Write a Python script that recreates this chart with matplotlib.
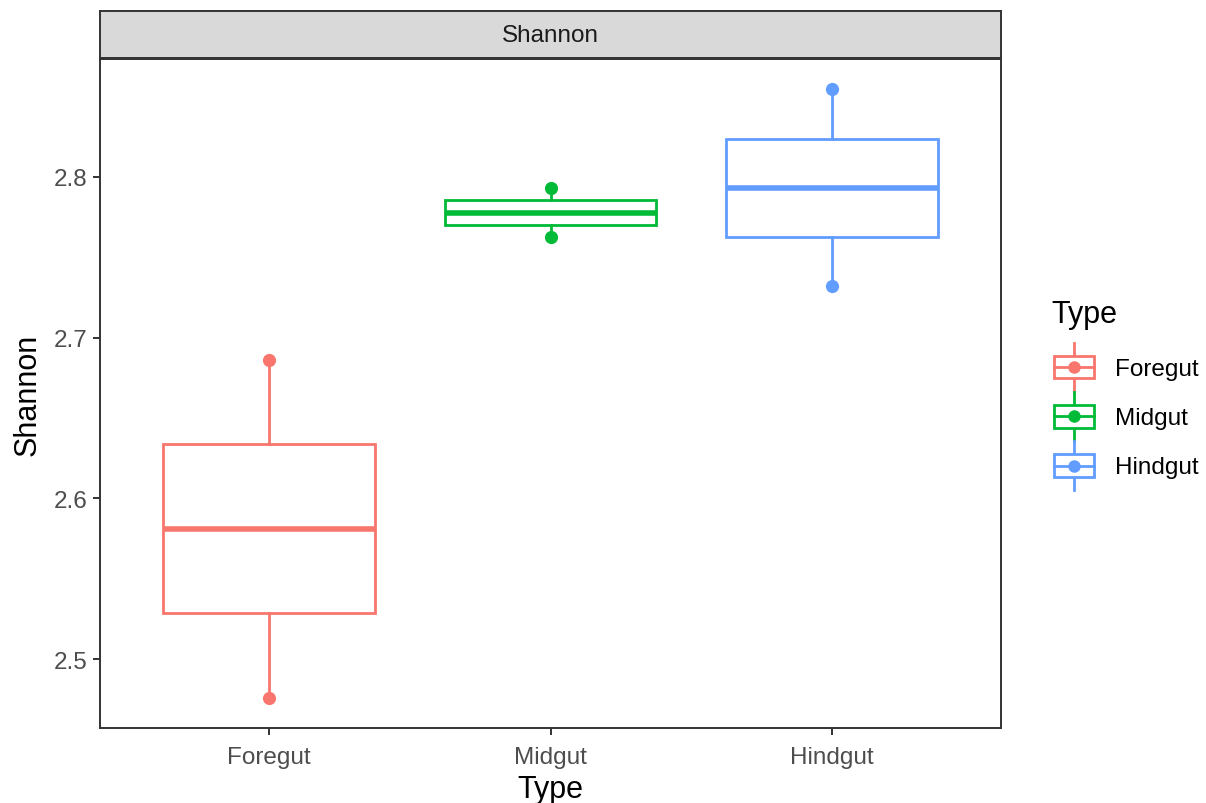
import matplotlib
matplotlib.use("Agg")
import matplotlib.pyplot as plt
import numpy as np
from matplotlib.legend_handler import HandlerBase
from matplotlib.patches import Rectangle, Patch
from matplotlib.lines import Line2D

plt.rcParams['font.family'] = ['Liberation Sans', 'DejaVu Sans']

categories = ["Foregut", "Midgut", "Hindgut"]
foregut = [2.476, 2.581, 2.686]
midgut = [2.7623, 2.7777, 2.7932]
hindgut = [2.732, 2.7932, 2.8544]
values = [foregut, midgut, hindgut]
colors = ["#F8766D", "#00BA38", "#619CFF"]
yticks = [2.5, 2.6, 2.7, 2.8]
facet_label = "Shannon"

W, H = 1206, 804
fig = plt.figure(figsize=(W / 100, H / 100), dpi=100)

def fx(px):
    return px / W

def fy(py):
    return 1 - py / H

ax = fig.add_axes([fx(100), fy(729), fx(1001) - fx(100), fy(60) - fy(729)])
strip = fig.add_axes([fx(100), fy(59), fx(1001) - fx(100), fy(12) - fy(59)])

positions = np.arange(1, len(categories) + 1)
box_lw = 2.0
for i, (vals, c) in enumerate(zip(values, colors)):
    ax.scatter([positions[i]] * len(vals), vals, s=90, color=c, zorder=1, linewidths=0)
    ax.boxplot([vals], positions=[positions[i]], widths=0.75, whis=(0, 100),
               showcaps=False, showfliers=False, patch_artist=True,
               boxprops=dict(facecolor='white', edgecolor=c, linewidth=box_lw),
               whiskerprops=dict(color=c, linewidth=box_lw),
               medianprops=dict(color=c, linewidth=box_lw * 2, solid_capstyle='butt'),
               zorder=2)

ax.set_xlim(0.4, len(categories) + 0.6)
allv = np.concatenate(values)
rng = allv.max() - allv.min()
ax.set_ylim(allv.min() - 0.05 * rng, allv.max() + 0.05 * rng)
ax.set_xticks(positions)
ax.set_xticklabels(categories)
ax.set_yticks(yticks)
ax.set_yticklabels([f"{t:.1f}" for t in yticks])
ax.tick_params(axis='both', labelsize=17.5, labelcolor='#4D4D4D', color='#333333',
               length=5, width=1.4, pad=4)
ax.tick_params(axis='x', pad=8)
for s in ax.spines.values():
    s.set_color('#333333')
    s.set_linewidth(1.4)
ax.set_xlabel("Type", fontsize=22, color='black', labelpad=4)
ax.set_ylabel("Shannon", fontsize=22, color='black', labelpad=8)

strip.set_facecolor('#D9D9D9')
strip.set_xticks([])
strip.set_yticks([])
for s in strip.spines.values():
    s.set_color('#333333')
    s.set_linewidth(1.4)
strip.text(0.5, 0.5, facet_label, ha='center', va='center', fontsize=17.5,
           color='#1A1A1A', transform=strip.transAxes)


class BoxHandler(HandlerBase):
    def create_artists(self, legend, orig_handle, xdescent, ydescent, width,
                       height, fontsize, trans):
        c = orig_handle.get_edgecolor()
        x0, y0 = -xdescent, -ydescent
        cx, cy = x0 + width / 2, y0 + height / 2
        bw, bh = width * 0.95, height * 0.46
        arts = [
            Line2D([cx, cx], [cy + bh / 2, y0 + height], color=c, lw=box_lw, transform=trans),
            Line2D([cx, cx], [y0, cy - bh / 2], color=c, lw=box_lw, transform=trans),
            Rectangle((cx - bw / 2, cy - bh / 2), bw, bh, fc='white', ec=c, lw=box_lw,
                      transform=trans),
            Line2D([cx - bw / 2, cx + bw / 2], [cy, cy], color=c, lw=box_lw, transform=trans),
            Line2D([cx], [cy], marker='o', ms=9, color=c, mew=0, transform=trans),
        ]
        return arts


handles = [Patch(facecolor='white', edgecolor=c) for c in colors]
leg = fig.legend(handles, categories, handler_map={Patch: BoxHandler()},
                 loc='upper left', bbox_to_anchor=(fx(1053), fy(344)),
                 frameon=False, fontsize=17.5,
                 handlelength=1.75, handleheight=2.7, labelspacing=0.02,
                 handletextpad=0.82, borderaxespad=0, borderpad=0)
fig.text(fx(1051), fy(315), "Type", ha='left', va='center', fontsize=22, color='black')

fig.savefig("out.png", dpi=100)
